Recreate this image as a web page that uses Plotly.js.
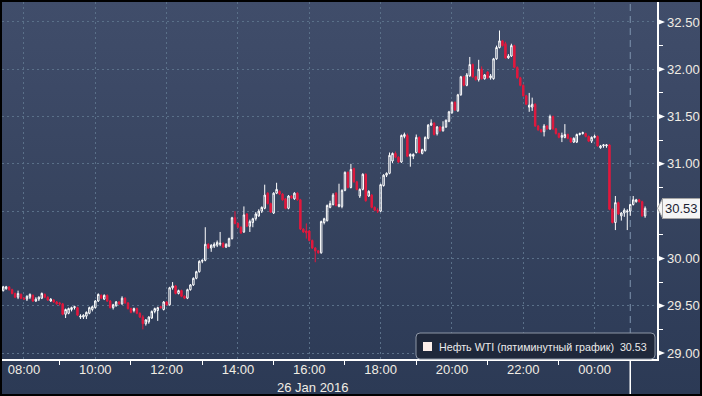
<!DOCTYPE html>
<html><head><meta charset="utf-8">
<script src="https://cdn.plot.ly/plotly-3.0.1.min.js"></script>
<style>
html,body{margin:0;padding:0;background:#000;}
#wrap{position:absolute;left:0;top:0;width:702px;height:396px;background:#000;}
#chart{position:absolute;left:2px;top:2px;width:698px;height:392px;
background:linear-gradient(to bottom,#404d6a 0%,#3c4966 22%,#37445f 50%,#303e5a 78%,#2c3a55 100%);}
</style></head>
<body><div id="wrap"><div id="chart"></div></div>
<script>
const seriesName = 'Нефть WTI (пятиминутный график)';
const dateLabel = '26 Jan 2016';
const firstCandle = '2016-01-26T07:25:00Z';
const nowMarker = '2016-01-27 01:00';
const lastPrice = 30.53;
const yTickVals = [29.0, 29.5, 30.0, 30.5, 31.0, 31.5, 32.0, 32.5];
const yTickText = ['29.00','29.50','30.00','','31.00','31.50','32.00','32.50'];
const yMinorVals = [29.25, 29.75, 30.25, 30.75, 31.25, 31.75, 32.25];

const opens = [
29.66,29.68,29.70,29.67,29.63,29.59,29.62,29.58,29.57,29.59,
29.61,29.55,29.57,29.58,29.62,29.59,29.55,29.56,29.54,29.53,
29.52,29.41,29.42,29.46,29.48,29.48,29.38,29.38,29.39,29.42,
29.46,29.48,29.55,29.61,29.57,29.61,29.55,29.48,29.50,29.54,
29.52,29.58,29.53,29.47,29.45,29.47,29.42,29.38,29.31,29.33,
29.37,29.44,29.45,29.49,29.46,29.54,29.51,29.69,29.71,29.63,
29.66,29.60,29.58,29.67,29.72,29.79,29.86,29.97,29.98,30.15,
30.11,30.13,30.14,30.15,30.16,30.12,30.13,30.21,30.43,30.37,
30.33,30.28,30.47,30.34,30.38,30.42,30.45,30.50,30.53,30.69,
30.58,30.48,30.69,30.71,30.68,30.63,30.53,30.66,30.63,30.69,
30.62,30.31,30.29,30.29,30.19,30.11,30.08,30.06,30.38,30.40,
30.54,30.57,30.69,30.55,30.55,30.72,30.91,30.75,30.95,30.81,
30.66,30.73,30.89,30.66,30.67,30.54,30.51,30.50,30.77,30.88,
30.90,31.03,31.11,31.07,31.02,31.29,31.30,31.08,31.08,31.12,
31.28,31.11,31.14,31.27,31.41,31.43,31.32,31.39,31.35,31.39,
31.45,31.54,31.65,31.56,31.73,31.92,31.83,31.93,32.05,31.92,
31.89,32.00,31.90,31.97,31.91,31.90,32.11,32.23,32.30,32.27,
32.12,32.14,32.25,32.02,31.91,31.83,31.72,31.60,31.60,31.63,
31.40,31.36,31.34,31.40,31.37,31.50,31.37,31.32,31.28,31.28,
31.31,31.27,31.23,31.23,31.31,31.32,31.32,31.29,31.24,31.28,
31.29,31.17,31.19,31.19,31.20,30.52,30.38,30.59,30.45,30.48,
30.49,30.50,30.57,30.60,30.62,30.60,30.45];
const highs = [
29.71,29.71,29.70,29.68,29.64,29.66,29.63,29.59,29.61,29.63,
29.62,29.59,29.60,29.64,29.63,29.60,29.58,29.57,29.55,29.54,
29.53,29.47,29.48,29.49,29.50,29.49,29.41,29.41,29.44,29.49,
29.50,29.56,29.63,29.62,29.62,29.62,29.56,29.52,29.55,29.55,
29.60,29.59,29.54,29.48,29.48,29.48,29.43,29.40,29.36,29.39,
29.45,29.48,29.49,29.50,29.55,29.55,29.70,29.75,29.72,29.67,
29.67,29.61,29.68,29.73,29.80,29.87,29.98,29.99,30.33,30.16,
30.15,30.17,30.19,30.28,30.17,30.16,30.22,30.44,30.50,30.38,
30.34,30.55,30.48,30.41,30.43,30.49,30.52,30.55,30.78,30.70,
30.59,30.70,30.80,30.72,30.69,30.64,30.67,30.67,30.70,30.70,
30.63,30.32,30.37,30.30,30.20,30.12,30.09,30.40,30.43,30.57,
30.61,30.69,30.70,30.79,30.73,30.92,30.92,31.00,30.96,30.82,
30.74,30.90,30.90,30.72,30.68,30.55,30.53,30.79,30.89,30.91,
31.12,31.12,31.13,31.08,31.31,31.33,31.32,31.11,31.11,31.31,
31.29,31.16,31.29,31.42,31.47,31.44,31.40,31.40,31.45,31.47,
31.56,31.66,31.66,31.74,31.93,31.93,31.96,32.13,32.06,31.93,
32.10,32.03,31.95,31.98,31.95,32.12,32.25,32.41,32.31,32.29,
32.16,32.27,32.26,32.03,31.92,31.84,31.73,31.75,31.70,31.64,
31.41,31.37,31.42,31.41,31.52,31.51,31.38,31.33,31.33,31.42,
31.32,31.28,31.28,31.32,31.33,31.34,31.33,31.30,31.29,31.31,
31.30,31.20,31.21,31.21,31.21,30.53,30.66,30.60,30.49,30.53,
30.52,30.58,30.66,30.63,30.63,30.61,30.55];
const lows = [
29.65,29.67,29.66,29.62,29.58,29.57,29.57,29.56,29.55,29.57,
29.54,29.54,29.55,29.57,29.58,29.55,29.54,29.53,29.51,29.50,
29.40,29.37,29.41,29.44,29.46,29.39,29.36,29.36,29.36,29.41,
29.44,29.47,29.54,29.57,29.56,29.54,29.47,29.46,29.49,29.51,
29.51,29.52,29.46,29.42,29.43,29.41,29.37,29.25,29.29,29.31,
29.36,29.42,29.34,29.47,29.45,29.50,29.50,29.67,29.62,29.62,
29.59,29.57,29.57,29.66,29.71,29.78,29.85,29.95,29.97,30.10,
30.07,30.11,30.12,30.13,30.11,30.11,30.12,30.20,30.36,30.32,
30.26,30.27,30.33,30.28,30.33,30.40,30.44,30.48,30.52,30.57,
30.48,30.47,30.68,30.67,30.61,30.52,30.52,30.63,30.62,30.61,
30.30,30.27,30.21,30.18,30.10,29.96,30.05,30.05,30.36,30.39,
30.53,30.56,30.55,30.54,30.53,30.71,30.74,30.74,30.80,30.72,
30.64,30.72,30.60,30.65,30.53,30.50,30.48,30.49,30.76,30.86,
30.89,31.01,31.06,31.01,31.01,31.27,31.07,30.97,31.05,31.11,
31.11,31.10,31.13,31.26,31.40,31.30,31.30,31.34,31.34,31.38,
31.44,31.53,31.56,31.55,31.72,31.82,31.82,31.92,31.91,31.88,
31.87,31.89,31.89,31.90,31.89,31.89,32.10,32.22,32.24,32.11,
32.11,32.13,32.01,31.90,31.82,31.71,31.62,31.55,31.56,31.39,
31.35,31.33,31.29,31.36,31.36,31.36,31.31,31.27,31.23,31.27,
31.26,31.22,31.22,31.22,31.30,31.31,31.28,31.23,31.22,31.27,
31.18,31.16,31.17,31.17,30.51,30.37,30.30,30.46,30.40,30.44,
30.30,30.45,30.56,30.59,30.59,30.44,30.43];
const closes = [
29.70,29.70,29.67,29.63,29.59,29.63,29.58,29.57,29.60,29.62,
29.55,29.57,29.59,29.63,29.59,29.56,29.57,29.54,29.52,29.52,
29.41,29.46,29.47,29.48,29.49,29.40,29.39,29.40,29.43,29.48,
29.49,29.55,29.62,29.58,29.61,29.55,29.48,29.51,29.54,29.52,
29.58,29.53,29.47,29.43,29.47,29.42,29.38,29.31,29.35,29.38,
29.44,29.47,29.48,29.48,29.54,29.51,29.69,29.71,29.63,29.66,
29.60,29.58,29.67,29.72,29.79,29.86,29.97,29.98,30.15,30.11,
30.14,30.15,30.17,30.16,30.12,30.15,30.21,30.43,30.37,30.33,
30.27,30.46,30.34,30.39,30.42,30.47,30.50,30.54,30.67,30.58,
30.49,30.69,30.73,30.68,30.62,30.53,30.66,30.64,30.69,30.62,
30.31,30.28,30.27,30.19,30.11,30.08,30.06,30.39,30.42,30.56,
30.58,30.67,30.56,30.57,30.72,30.91,30.75,30.94,30.81,30.73,
30.73,30.89,30.61,30.71,30.54,30.51,30.50,30.78,30.88,30.90,
31.09,31.11,31.07,31.02,31.30,31.31,31.08,31.10,31.10,31.28,
31.12,31.15,31.28,31.41,31.43,31.31,31.39,31.35,31.39,31.46,
31.55,31.65,31.57,31.73,31.92,31.83,31.94,32.05,31.92,31.89,
32.00,31.90,31.94,31.91,31.93,32.11,32.23,32.30,32.25,32.12,
32.14,32.25,32.02,31.91,31.83,31.72,31.63,31.62,31.63,31.40,
31.36,31.34,31.40,31.37,31.50,31.37,31.32,31.28,31.30,31.31,
31.27,31.23,31.27,31.31,31.32,31.33,31.29,31.24,31.28,31.29,
31.19,31.19,31.20,31.20,30.52,30.38,30.59,30.47,30.48,30.51,
30.50,30.57,30.62,30.62,30.60,30.45,30.53];

const t0 = new Date(firstCandle).getTime();
const times = opens.map((_, i) => new Date(t0 + i * 300000).toISOString().slice(0, 16).replace('T', ' '));

const W = 655, H = 357; // plot area px
const px = v => v / W, py = v => 1 - v / H;
const FONT = 'Liberation Sans, Arial, sans-serif';
const labelColor = '#f1ede4';

const shapes = [];
shapes.push({type:'line', xref:'x', yref:'paper', x0:nowMarker, x1:nowMarker, y0:0, y1:1,
  line:{color:'#7f94ae', width:1, dash:'7px,5px'}, layer:'below'});
shapes.push({type:'line', xref:'x', yref:'paper', x0:nowMarker, x1:nowMarker, y0:0, y1:py(392),
  line:{color:'#ffffff', width:1.5}});
const dy = 3.2 / 94.57;
yTickVals.forEach((v, i) => {
  if (!yTickText[i]) return;
  shapes.push({type:'path', xref:'paper', yref:'y',
    path:`M 1 ${v+dy} L 1 ${v-dy} L ${1+px(8)} ${v} Z`,
    fillcolor:'#ffffff', line:{width:0}});
});
const tagH = 9.5 / 94.57;
shapes.push({type:'path', xref:'paper', yref:'y',
  path:`M ${1+px(0.5)} ${lastPrice} L ${1+px(5.5)} ${lastPrice+tagH} L ${1+px(5.5)} ${lastPrice-tagH} Z`,
  fillcolor:'#f5f5f5', line:{color:'#a5a5a5', width:1}});
const lx0 = px(414), lx1 = px(653), ly0 = py(357), ly1 = py(331);
const rx = px(4), ry = 4 / H;
shapes.push({type:'path', xref:'paper', yref:'paper',
  path:`M ${lx0+rx} ${ly1} L ${lx1-rx} ${ly1} Q ${lx1} ${ly1} ${lx1} ${ly1-ry} L ${lx1} ${ly0+ry} Q ${lx1} ${ly0} ${lx1-rx} ${ly0} L ${lx0+rx} ${ly0} Q ${lx0} ${ly0} ${lx0} ${ly0+ry} L ${lx0} ${ly1-ry} Q ${lx0} ${ly1} ${lx0+rx} ${ly1} Z`,
  fillcolor:'#1f283b', line:{color:'#8d96a6', width:1}});
shapes.push({type:'rect', xref:'paper', yref:'paper', x0:px(421), x1:px(430), y0:py(349), y1:py(340),
  fillcolor:'#fcefea', line:{width:0}});

const annotations = [
  {xref:'paper', yref:'paper', x:px(435), y:py(344.5), xanchor:'left', yanchor:'middle', showarrow:false,
   text: seriesName + '\u00a0\u00a0' + lastPrice.toFixed(2), font:{family:FONT, size:10.7, color:'#ebebeb'}},
  {xref:'paper', yref:'paper', x:px(311), y:py(385), xanchor:'center', yanchor:'middle', showarrow:false,
   text: dateLabel, font:{family:FONT, size:13, color:labelColor}},
  {xref:'paper', yref:'y', x:1+px(5), y:lastPrice, xanchor:'left', yanchor:'middle', showarrow:false,
   text: lastPrice.toFixed(2), bgcolor:'#f5f5f5', bordercolor:'#a5a5a5', borderwidth:1, borderpad:2,
   font:{family:FONT, size:13, color:'#1b2233'}}
];

const trace = {
  type:'candlestick', x:times, open:opens, high:highs, low:lows, close:closes,
  increasing:{line:{color:'#ffffff', width:1}, fillcolor:'rgba(0,0,0,0)'},
  decreasing:{line:{color:'#e3183d', width:1}, fillcolor:'#e3183d'},
  whiskerwidth:0, hoverinfo:'skip', showlegend:false
};

const layout = {
  width:698, height:392,
  margin:{l:0, r:43, t:0, b:35, pad:0},
  paper_bgcolor:'rgba(0,0,0,0)', plot_bgcolor:'rgba(0,0,0,0)',
  showlegend:false,
  xaxis:{type:'date', range:['2016-01-26 07:23','2016-01-27 01:45'],
    tickmode:'linear', tick0:'2016-01-26 08:00', dtick:7200000, tickformat:'%H:%M',
    showgrid:true, gridcolor:'#5a7089', griddash:'2px,3px', gridwidth:1,
    showline:true, linecolor:'#ffffff', linewidth:1.5, zeroline:false,
    ticks:'', ticklabelstandoff:-2,
    tickfont:{family:FONT, size:13, color:labelColor},
    minor:{dtick:3600000, tick0:'2016-01-26 09:00', ticks:'outside', ticklen:4, tickcolor:'#ffffff', tickwidth:1, showgrid:false},
    rangeslider:{visible:false}, fixedrange:true},
  yaxis:{side:'right', range:[28.937, 32.711],
    tickmode:'array', tickvals:yTickVals, ticktext:yTickText,
    showgrid:true, gridcolor:'#5a7089', griddash:'2px,3px', gridwidth:1,
    showline:true, linecolor:'#ffffff', linewidth:1.5, zeroline:false,
    ticks:'outside', ticklen:6, tickcolor:'rgba(0,0,0,0)',
    tickfont:{family:FONT, size:13, color:labelColor},
    minor:{tickmode:'array', tickvals:yMinorVals, ticks:'outside', ticklen:4, tickcolor:'#ffffff', tickwidth:1, showgrid:false},
    fixedrange:true},
  shapes:shapes, annotations:annotations
};

Plotly.newPlot('chart', [trace], layout, {staticPlot:true, displayModeBar:false});
</script>
</body></html>
